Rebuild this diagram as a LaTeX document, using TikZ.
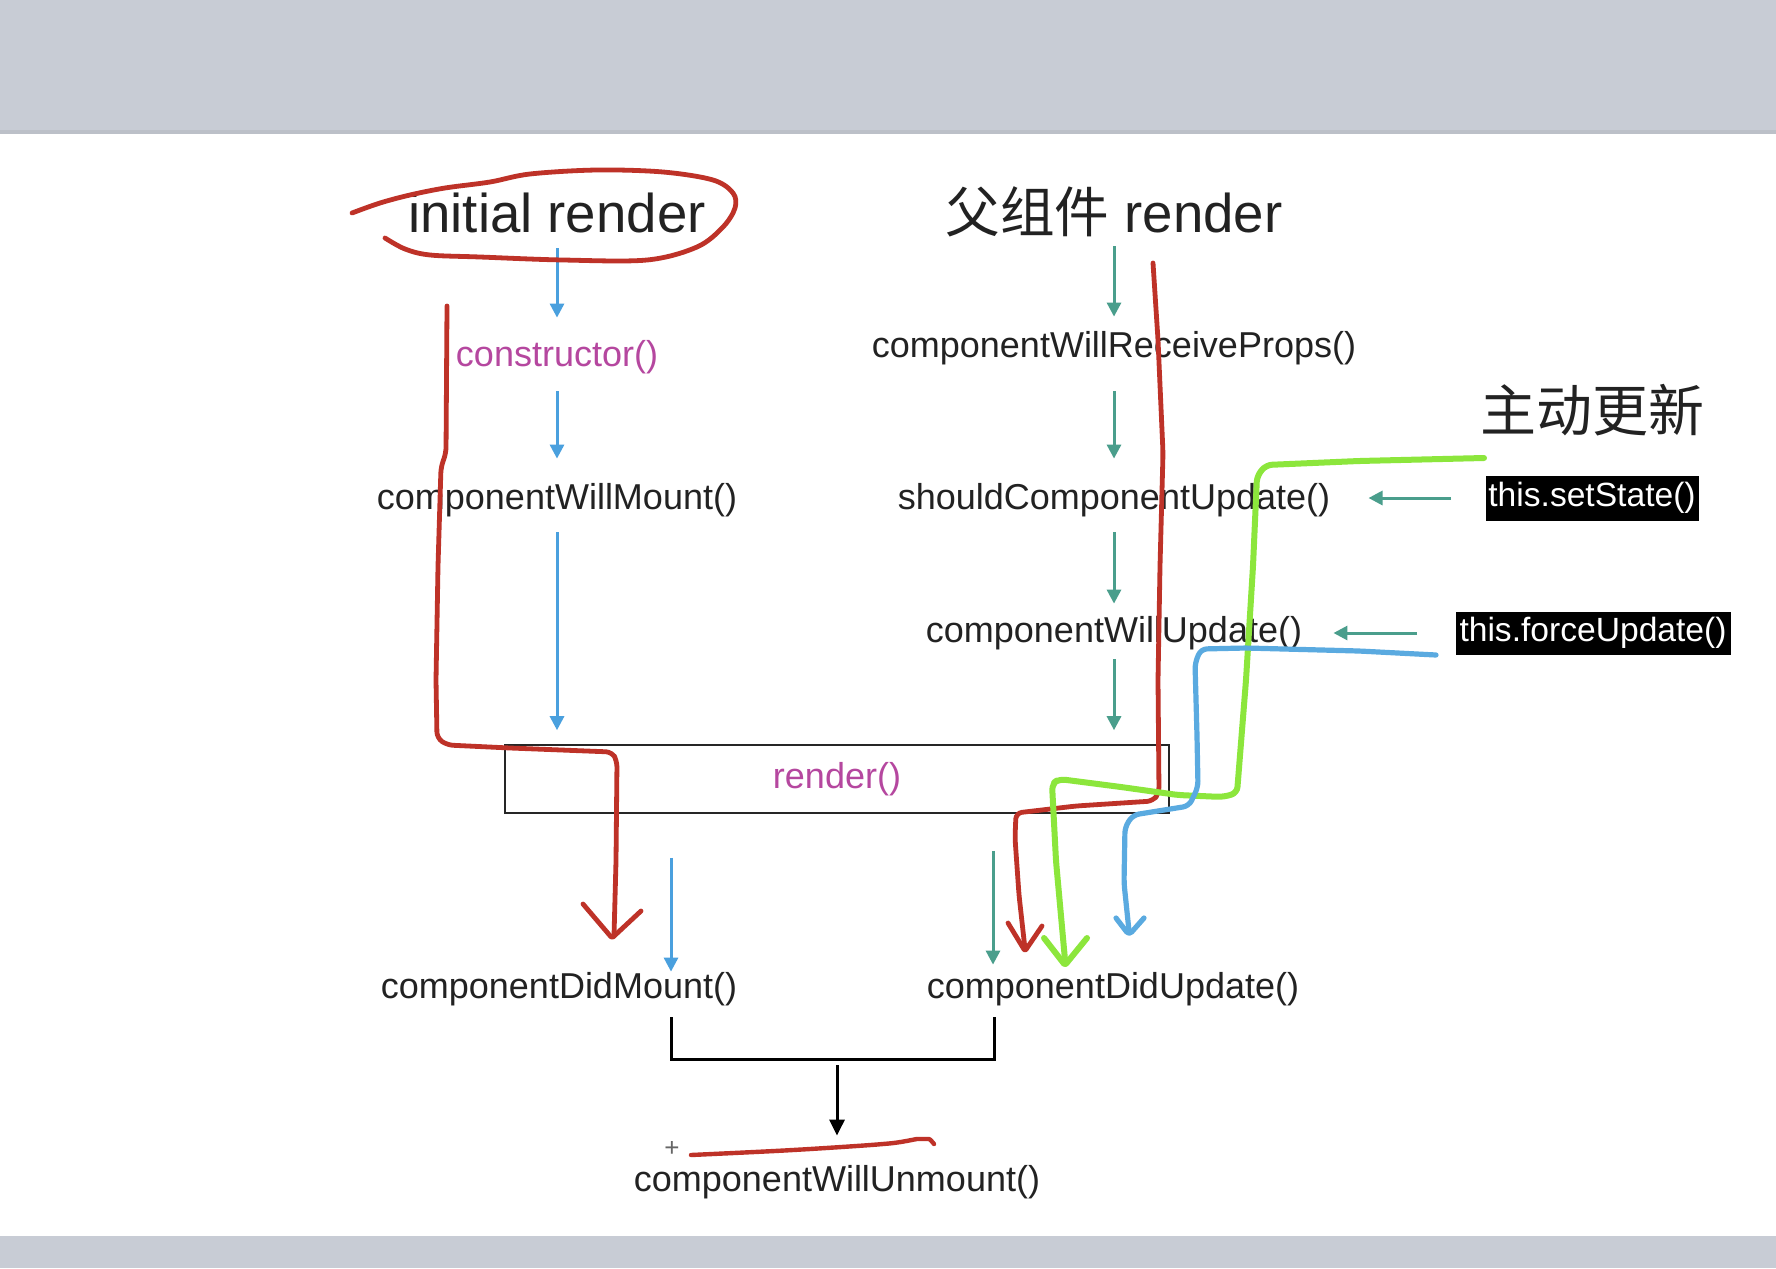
\documentclass[tikz,border=0pt]{standalone}
\usepackage{fontspec}
\setmainfont{Liberation Sans}
\newfontfamily\cjk{Noto Sans CJK SC}
\usetikzlibrary{arrows.meta,calc}
\definecolor{bandgray}{HTML}{C8CCD5}
\definecolor{arrblue}{HTML}{4AA0DE}
\definecolor{arrteal}{HTML}{4A9E8C}
\definecolor{mag}{HTML}{B5479F}
\definecolor{redpen}{HTML}{BE3228}
\definecolor{greenpen}{HTML}{8CE63C}
\definecolor{bluepen}{HTML}{5AAAE0}
\definecolor{txt}{HTML}{222222}
\tikzset{
  lbl/.style={font=\fontsize{18}{20}\selectfont, text=txt, inner sep=0pt, text height=13pt, text depth=4pt},
  big/.style={font=\fontsize{27.3}{30}\selectfont, text=txt, inner sep=0pt, text height=21pt, text depth=5pt},
  cjkbig/.style={font=\cjk\fontsize{28}{30}\selectfont, text=txt, inner sep=0pt},
  blk/.style={fill=black, text=white, font=\fontsize{16.8}{18}\selectfont, inner sep=0pt},
  rbox/.style={draw=black!85, line width=0.8pt, minimum width=332pt, minimum height=34pt, inner sep=0pt, font=\fontsize{18}{20}\selectfont, text=mag},
  barrow/.style={draw=arrblue, line width=1.5pt, -{Triangle[length=7pt,width=7pt]}},
  tarrow/.style={draw=arrteal, line width=1.5pt, -{Triangle[length=7pt,width=7pt]}},
  karrow/.style={draw=black, line width=1.5pt, -{Triangle[length=8pt,width=7.5pt]}},
  brk/.style={draw=black, line width=1.5pt},
  hand/.style={line width=2.4pt, line cap=round, line join=round, rounded corners=3pt},
}
\begin{document}
\begin{tikzpicture}[x=0.5pt,y=-0.5pt]
\useasboundingbox (0,0) rectangle (1776,1268);
\fill[white] (0,0) rectangle (1776,1268);
\fill[bandgray] (0,0) rectangle (1776,133);
\fill[bandgray!94!black] (0,130) rectangle (1776,134);
\fill[bandgray] (0,1236) rectangle (1776,1268);

% nodes
\node[big] (init) at (557,216) {initial render};
\node[big] (parent) at (1114,216) {{\cjk 父组件} render};
\node[lbl, text=mag] (ctor) at (557,357) {constructor()};
\node[lbl] (cwm) at (557,500) {componentWillMount()};
\node[rbox] (render) at (837,779) {render()};
\node[lbl] (cwrp) at (1114,348) {componentWillReceiveProps()};
\node[lbl] (scu) at (1114,500) {shouldComponentUpdate()};
\node[lbl] (cwu) at (1114,633) {componentWillUpdate()};
\node[lbl] (cdm) at (559,989) {componentDidMount()};
\node[lbl] (cdu) at (1113,989) {componentDidUpdate()};
\node[lbl] (cwun) at (837,1182) {componentWillUnmount()};
\node[cjkbig] (zd) at (1592,410) {主动更新};
\node[blk, minimum width=106.5pt, minimum height=22.5pt] (ss) at (1592,498) {this.setState()};
\node[blk, minimum width=137.5pt, minimum height=21.5pt] (fu) at (1593,633) {this.forceUpdate()};
\node[font=\fontsize{13}{13}\selectfont, text=black!60, inner sep=0pt] (plus) at (672,1149) {+};

% left column arrows
\draw[barrow, shorten <=3pt, shorten >=11pt] (init.south) -- (ctor.north);
\draw[barrow, shorten <=8.5pt, shorten >=12pt] (ctor.south) -- (cwm.north);
\draw[barrow, shorten <=7.5pt, shorten >=7pt] (cwm.south) -- (cwm.south |- render.north);

% right column arrows
\draw[tarrow, shorten <=2pt, shorten >=7pt] (parent.south) -- (cwrp.north);
\draw[tarrow, shorten <=13pt, shorten >=12pt] (cwrp.south) -- (scu.north);
\draw[tarrow, shorten <=7.5pt, shorten >=6pt] (scu.south) -- (cwu.north);
\draw[tarrow, shorten <=4.5pt, shorten >=7pt] (cwu.south) -- (cwu.south |- render.north);

% side arrows
\draw[tarrow, shorten <=17pt, shorten >=19pt] (ss.west) -- (ss.west -| scu.east);
\draw[tarrow, shorten <=19pt, shorten >=15.5pt] (fu.west) -- (fu.west -| cwu.east);

% bottom arrows
\coordinate (colL) at ([xshift=56pt]cdm.north);
\coordinate (colR) at ([xshift=-60pt]cdu.north);
\draw[barrow, shorten <=22pt] (render.south -| colL) -- (colL);
\draw[tarrow, shorten <=18.5pt, shorten >=3.5pt] (render.south -| colR) -- (colR);

% bracket
\coordinate (bL) at ($(colL |- cdm.south)+(0,11)$);
\coordinate (bR) at ($(colR |- cdu.south)+(1,11)$);
\draw[brk] (bL) -- ++(0,42) -| (bR);
\coordinate (bM) at ($(bL)+(0,42)$);
\draw[karrow, shorten <=3pt, shorten >=14.5pt] (cwun.north |- bM) -- (cwun.north);

% red ellipse around initial render
\draw[hand, draw=redpen, rounded corners=0pt] plot[smooth, tension=0.55] coordinates {
 (352,213) (380,203) (410,195) (445,188) (490,182) (530,174) (597,170) (663,172) (713,180) (733,193)
 (735,208) (723,227) (697,247) (647,260) (563,260) (480,257) (430,255) (405,249) (385,238)};

% red left path
\draw[hand, draw=redpen] (447,306) -- (446,453) -- (441,467) -- (438,566) -- (436,680)
  -- (437,738) -- (447,745) -- (510,748) -- (612,752) -- (617,761) -- (616,861) -- (614,936);
\draw[hand, draw=redpen, rounded corners=1pt] (583,904) -- (612,938) -- (641,911);

% red right path
\draw[hand, draw=redpen] (1153,263) -- (1158,340) -- (1163,453) -- (1160,566) -- (1158,680)
  -- (1159,793) -- (1153,801) -- (1076,806) -- (1016,813) -- (1015,838) -- (1019,895) -- (1025,949);
\draw[hand, draw=redpen, rounded corners=1pt] (1008,923) -- (1025,951) -- (1042,926);

% green path
\draw[hand, draw=greenpen, line width=3pt] (1484,458) -- (1359,461) -- (1266,465) -- (1257,476)
  -- (1253,566) -- (1246,680) -- (1237,793) -- (1223,797) -- (1178,795) -- (1121,787)
  -- (1059,779) -- (1052,784) -- (1056,861) -- (1065,960);
\draw[hand, draw=greenpen, line width=3pt, rounded corners=1pt] (1044,938) -- (1065,965) -- (1087,938);

% blue path
\draw[hand, draw=bluepen, line width=2.6pt] (1436,655) -- (1359,651) -- (1246,648) -- (1201,649)
  -- (1195,663) -- (1197,736) -- (1198,787) -- (1189,806) -- (1133,815) -- (1125,827)
  -- (1124,883) -- (1129,931);
\draw[hand, draw=bluepen, line width=2.6pt, rounded corners=2pt] (1116,918) -- (1129,935) -- (1144,918);

% red underline
\draw[hand, draw=redpen, line width=2.2pt] plot[smooth, tension=0.5] coordinates {
 (691,1155) (793,1150) (883,1144) (923,1139) (934,1144)};
\end{tikzpicture}
\end{document}
